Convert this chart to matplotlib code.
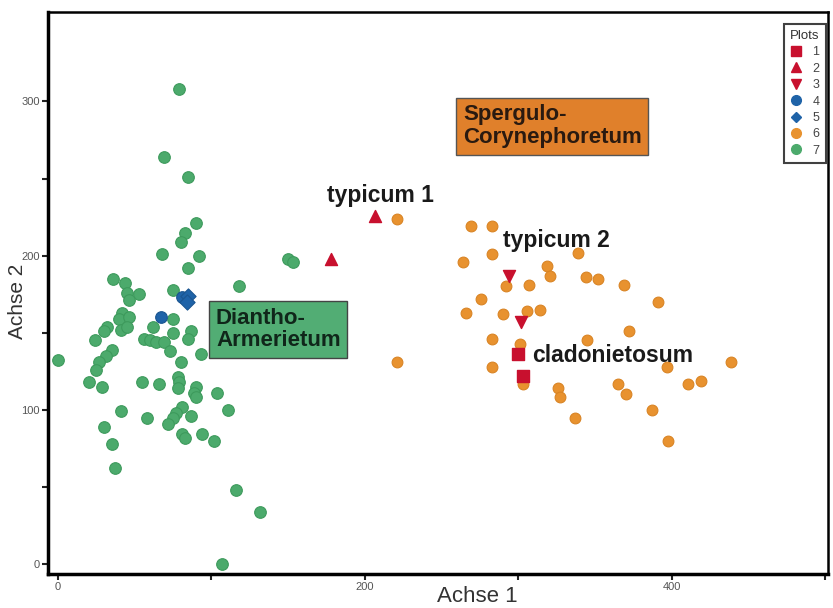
import matplotlib.pyplot as plt
from matplotlib.lines import Line2D

plt.rcParams['font.family'] = ['Liberation Sans', 'DejaVu Sans']

# ordination scores (Achse 1, Achse 2)
plot1_x = [300, 303]
plot1_y = [136, 122]
plot2_x = [207, 178]
plot2_y = [226, 198]
plot3_x = [294, 302]
plot3_y = [187, 157]
plot4_x = [67, 81]
plot4_y = [160, 173]
plot5_x = [85, 84]
plot5_y = [174, 170]
plot6_x = [221, 269, 283, 283, 264, 339, 319, 321, 344, 352, 369, 292, 307,
           276, 391, 266, 290, 306, 314, 372, 283, 301, 345, 221, 283, 397,
           439, 303, 326, 327, 365, 370, 411, 419, 387, 337, 398]
plot6_y = [224, 219, 219, 201, 196, 202, 193, 187, 186, 185, 181, 180, 181,
           172, 170, 163, 162, 164, 165, 151, 146, 143, 145, 131, 128, 128,
           131, 117, 114, 108, 117, 110, 117, 119, 100, 95, 80]
plot7_x = [79, 69, 85, 90, 83, 80, 68, 92, 85, 150, 153, 36, 44, 45, 53, 46,
           118, 75, 75, 42, 40, 46, 41, 45, 32, 30, 24, 62, 56, 60, 64, 69,
           75, 87, 85, 73, 93, 80, 0, 35, 31, 27, 25, 20, 29, 55, 66, 78, 79,
           78, 90, 89, 90, 104, 111, 41, 58, 81, 77, 75, 72, 87, 30, 35, 81,
           83, 94, 102, 37, 116, 132, 107]
plot7_y = [308, 264, 251, 221, 215, 209, 201, 200, 192, 198, 196, 185, 182,
           176, 175, 171, 180, 178, 159, 163, 159, 160, 152, 154, 154, 151,
           145, 154, 146, 145, 144, 144, 150, 151, 146, 138, 136, 131, 132,
           139, 135, 131, 126, 118, 115, 118, 117, 121, 118, 114, 115, 111,
           108, 111, 100, 99, 95, 102, 98, 95, 91, 96, 89, 78, 84, 82, 84, 80,
           62, 48, 34, 0]

red = '#c8102e'
blue = '#1f63a8'
orange = '#e8922f'
green = '#4caa6c'

fig = plt.figure(figsize=(8.33, 6.08), dpi=100)
ax = fig.add_axes([0.0576, 0.0559, 0.9364, 0.9243])

ax.scatter(plot7_x, plot7_y, s=70, c=green, edgecolors='#3d9a5c', linewidths=0.8, zorder=2)
ax.scatter(plot6_x, plot6_y, s=60, c=orange, edgecolors='#d98424', linewidths=0.8, zorder=2)
ax.scatter(plot4_x, plot4_y, s=70, c=blue, edgecolors='#1a5590', linewidths=0.8, zorder=3)
ax.scatter(plot5_x, plot5_y, s=60, c=blue, marker='D', edgecolors='#1a5590', linewidths=0.8, zorder=3)
ax.scatter(plot1_x, plot1_y, s=80, c=red, marker='s', zorder=4)
ax.scatter(plot2_x, plot2_y, s=75, c=red, marker='^', zorder=4)
ax.scatter(plot3_x, plot3_y, s=75, c=red, marker='v', zorder=4)

bold = dict(fontsize=16.5, fontweight='bold', color='#1a1a1a')
ax.text(210, 239, 'typicum 1', ha='center', va='center', **bold)
ax.text(325, 210, 'typicum 2', ha='center', va='center', **bold)
ax.text(309, 135, 'cladonietosum', ha='left', va='center', **bold)

ax.text(264, 284, 'Spergulo-\nCorynephoretum', ha='left', va='center',
        fontsize=16, fontweight='bold', color='#2a1a10', linespacing=1.1,
        bbox=dict(boxstyle='square,pad=0.3', facecolor='#e0802b', edgecolor='#555555', linewidth=1))
ax.text(103, 152, 'Diantho-\nArmerietum', ha='left', va='center',
        fontsize=16, fontweight='bold', color='#10261a', linespacing=1.1,
        bbox=dict(boxstyle='square,pad=0.3', facecolor='#52ad74', edgecolor='#444444', linewidth=1))

ax.set_xlim(-6.5, 502)
ax.set_ylim(-6.5, 358)
ax.set_xticks([0, 100, 200, 300, 400, 500])
ax.set_xticklabels(['0', '', '200', '', '400', ''])
ax.set_yticks([0, 50, 100, 150, 200, 250, 300])
ax.set_yticklabels(['0', '', '100', '', '200', '', '300'])
ax.tick_params(direction='out', length=4, width=1.5, labelsize=8, pad=2,
               colors='#222222', labelcolor='#555555')

for side in ['left', 'bottom']:
    ax.spines[side].set_linewidth(2.5)
for side in ['top', 'right']:
    ax.spines[side].set_linewidth(1.8)

ax.set_xlabel('Achse 1', fontsize=16, color='#333333')
ax.xaxis.set_label_coords(0.551, -0.022)
ax.set_ylabel('Achse 2', fontsize=15, color='#333333')
ax.yaxis.set_label_coords(-0.027, 0.485)

handles = [
    Line2D([], [], ls='', marker='s', color=red, ms=7, label='1'),
    Line2D([], [], ls='', marker='^', color=red, ms=7, label='2'),
    Line2D([], [], ls='', marker='v', color=red, ms=7, label='3'),
    Line2D([], [], ls='', marker='o', color=blue, ms=7, label='4'),
    Line2D([], [], ls='', marker='D', color=blue, ms=5, label='5'),
    Line2D([], [], ls='', marker='o', color=orange, ms=7, label='6'),
    Line2D([], [], ls='', marker='o', color=green, ms=7, label='7'),
]
leg = ax.legend(handles=handles, title='Plots', loc='upper right',
                bbox_to_anchor=(0.997, 0.979), fontsize=9, title_fontsize=9.5,
                frameon=True, fancybox=False, handlelength=1.0, handletextpad=0.8,
                labelspacing=0.35, borderpad=0.5, borderaxespad=0)
leg.get_frame().set_edgecolor('#111111')
leg.get_frame().set_linewidth(1.5)
for t in leg.get_texts():
    t.set_color('#444444')
leg.get_title().set_color('#333333')

plt.savefig('out.png', dpi=100)
